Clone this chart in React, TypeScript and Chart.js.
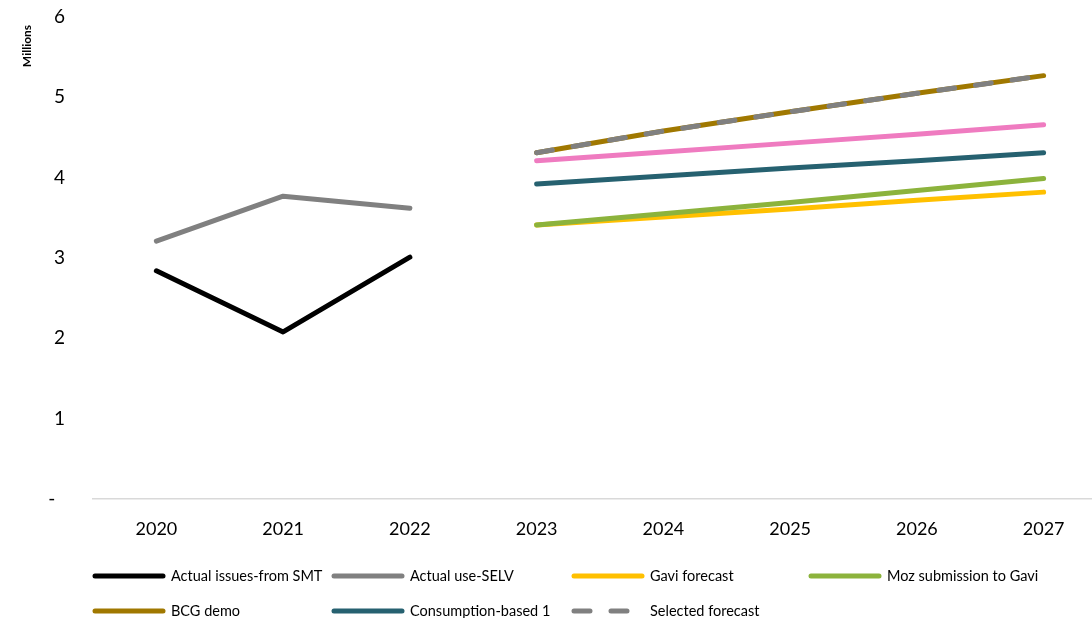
import React, { useEffect, useRef } from "react";
import { Chart, registerables } from "chart.js";

Chart.register(...registerables);

const years = ["2020", "2021", "2022", "2023", "2024", "2025", "2026", "2027"];

// Values in millions of doses
const actualIssuesSMT = [2.84, 2.08, 3.01, null, null, null, null, null];
const actualUseSELV = [3.21, 3.77, 3.62, null, null, null, null, null];
const gaviForecast = [null, null, null, 3.41, 3.51, 3.61, 3.72, 3.82];
const mozSubmission = [null, null, null, 3.41, 3.55, 3.69, 3.84, 3.99];
const bcgDemo = [null, null, null, 4.31, 4.58, 4.82, 5.05, 5.27];
const consumptionBased1 = [null, null, null, 3.92, 4.02, 4.12, 4.21, 4.31];
const consumptionBased2 = [null, null, null, 4.21, 4.32, 4.43, 4.54, 4.66];
const selectedForecast = [null, null, null, 4.31, 4.58, 4.82, 5.05, 5.27];

const yTicks = [0, 1, 2, 3, 4, 5, 6];

const FONT = "Lato, 'Open Sans', sans-serif";

type Series = {
  label: string;
  data: (number | null)[];
  color: string;
  dash?: number[];
  inLegend: boolean;
};

// Listed bottom-most first; later entries are painted over earlier ones.
const series: Series[] = [
  { label: "Actual issues-from SMT", data: actualIssuesSMT, color: "#000000", inLegend: true },
  { label: "Actual use-SELV", data: actualUseSELV, color: "#808080", inLegend: true },
  { label: "Gavi forecast", data: gaviForecast, color: "#FFC000", inLegend: true },
  { label: "Moz submission to Gavi", data: mozSubmission, color: "#8CB33C", inLegend: true },
  { label: "BCG demo", data: bcgDemo, color: "#A07800", inLegend: true },
  { label: "Consumption-based 1", data: consumptionBased1, color: "#266170", inLegend: true },
  { label: "Consumption-based 2", data: consumptionBased2, color: "#EF7BC0", inLegend: false },
  { label: "Selected forecast", data: selectedForecast, color: "#808080", dash: [16, 21], inLegend: true },
];

const legendCols = [93, 332, 572, 809];
const legendRows = [576, 611];

const legendPlugin = {
  id: "fixedLegend",
  afterDraw(chart: Chart) {
    const ctx = chart.ctx;
    ctx.save();
    const items = series.filter((s) => s.inLegend);
    items.forEach((s, i) => {
      const x = legendCols[i % 4];
      const y = legendRows[Math.floor(i / 4)];
      ctx.beginPath();
      ctx.lineWidth = 5;
      ctx.lineCap = "round";
      ctx.strokeStyle = s.color;
      ctx.setLineDash(s.dash ? s.dash : []);
      ctx.moveTo(x + 2, y);
      ctx.lineTo(x + 70, y);
      ctx.stroke();
      ctx.setLineDash([]);
      ctx.fillStyle = "#000000";
      ctx.font = `14.5px ${FONT}`;
      ctx.textBaseline = "middle";
      ctx.textAlign = "left";
      ctx.fillText(s.label, x + 78, y);
    });
    // Unit caption beside the value axis
    ctx.translate(27, 46);
    ctx.rotate(-Math.PI / 2);
    ctx.font = `bold 12px ${FONT}`;
    ctx.textAlign = "center";
    ctx.textBaseline = "middle";
    ctx.fillStyle = "#000000";
    ctx.fillText("Millions", 0, 0);
    ctx.restore();
  },
};

export default function App() {
  const ref = useRef<HTMLCanvasElement | null>(null);

  useEffect(() => {
    if (!ref.current) return;
    const chart = new Chart(ref.current, {
      type: "line",
      data: {
        labels: years,
        datasets: series.map((s, i) => ({
          label: s.label,
          data: s.data,
          order: series.length - i,
          borderColor: s.color,
          backgroundColor: s.color,
          borderWidth: 5,
          borderDash: s.dash,
          borderCapStyle: "round" as const,
          borderJoinStyle: "round" as const,
          pointRadius: 0,
          pointHoverRadius: 0,
          tension: 0,
          spanGaps: false,
          fill: false,
        })),
      },
      options: {
        animation: false,
        responsive: false,
        devicePixelRatio: 1,
        layout: { padding: { top: 17, right: 13, bottom: 79, left: 0 } },
        plugins: {
          legend: { display: false },
          tooltip: { enabled: false },
        },
        scales: {
          x: {
            type: "category",
            offset: true,
            grid: { display: true, drawOnChartArea: false, drawTicks: false, color: "rgba(0,0,0,0)" },
            border: { display: true, color: "#D9D9D9", width: 1.5 },
            ticks: {
              color: "#000000",
              font: { family: FONT, size: 18 },
              padding: 19,
              maxRotation: 0,
            },
            afterFit(scale: any) {
              scale.height = 40;
            },
          },
          y: {
            min: 0,
            max: 6,
            grid: { display: false, drawTicks: false },
            border: { display: false },
            afterBuildTicks(scale: any) {
              scale.ticks = yTicks.map((v) => ({ value: v }));
            },
            ticks: {
              color: "#000000",
              font: { family: FONT, size: 19 },
              padding: 28,
              callback: (v: any) => (Number(v) === 0 ? "-  " : String(v)),
            },
            afterFit(scale: any) {
              scale.width = 93;
              scale.paddingTop = 0;
              scale.paddingBottom = 0;
            },
          },
        },
      },
      plugins: [legendPlugin],
    });
    return () => chart.destroy();
  }, []);

  return (
    <div
      style={{
        position: "absolute",
        left: 0,
        top: 0,
        width: 1092,
        height: 618,
        overflow: "hidden",
        background: "#FFFFFF",
      }}
    >
      <canvas ref={ref} width={1120} height={618} />
    </div>
  );
}
